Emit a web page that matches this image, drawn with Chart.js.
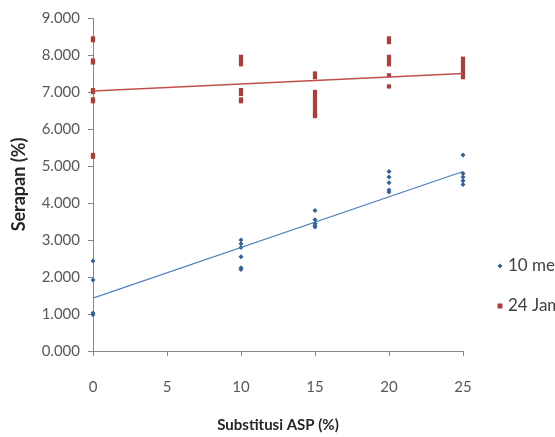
<!DOCTYPE html>
<html>
<head>
<meta charset="utf-8">
<script src="https://cdn.jsdelivr.net/npm/chart.js"></script>
<style>
  html, body { margin: 0; padding: 0; background: #fff; overflow: hidden; }
  #wrap { width: 555px; height: 437px; }
</style>
</head>
<body>
<div id="wrap"><canvas id="serapanChart" width="555" height="437"></canvas></div>
<script>
// data
const seriesNames = ['10 menit', '24 Jam'];
const xTicks = [0, 5, 10, 15, 20, 25];

const menitX = [0, 0, 0, 0, 10, 10, 10, 10, 10, 10, 15, 15, 15, 15, 15, 20, 20, 20, 20, 20, 25, 25, 25, 25, 25];
const menitY = [2.43, 1.92, 1.03, 0.98, 3.00, 2.90, 2.80, 2.55, 2.25, 2.20, 3.80, 3.55, 3.45, 3.40, 3.35, 4.85, 4.70, 4.55, 4.35, 4.30, 5.30, 4.80, 4.70, 4.60, 4.50];

const jamX = [0, 0, 0, 0, 0, 0, 0, 0, 0, 0, 10, 10, 10, 10, 10, 10, 10, 15, 15, 15, 15, 15, 15, 15, 15, 15, 15, 20, 20, 20, 20, 20, 20, 20, 25, 25, 25, 25, 25, 25];
const jamY = [8.45, 8.40, 7.85, 7.80, 7.05, 7.00, 6.80, 6.75, 5.30, 5.25, 7.95, 7.85, 7.75, 7.05, 6.95, 6.80, 6.75, 7.50, 7.40, 7.00, 6.90, 6.80, 6.70, 6.60, 6.50, 6.40, 6.35, 8.45, 8.35, 7.95, 7.85, 7.75, 7.45, 7.15, 7.90, 7.80, 7.70, 7.60, 7.50, 7.40];

// trend lines (ends)
const trendX = [0, 25];
const menitTrend = [1.43, 4.85];
const jamTrend = [7.03, 7.50];

const blue = '#4F81BD';
const red = '#C0504D';

function pts(xs, ys) {
    return xs.map((x, i) => ({ x: x, y: ys[i] }));
}

// legend drawn by hand so it runs off the right edge like the original
const sideLegend = {
    id: 'sideLegend',
    afterDraw(chart) {
        const ctx = chart.ctx;
        const x0 = chart.chartArea.right + 37;
        const rows = [
            { y: 266, color: '#376092', style: 'diamond' },
            { y: 306, color: '#A5403D', style: 'square' }
        ];
        ctx.save();
        ctx.font = '17px Lato, "Open Sans", sans-serif';
        ctx.textBaseline = 'middle';
        rows.forEach((r, i) => {
            ctx.fillStyle = r.color;
            if (r.style === 'square') {
                ctx.fillRect(x0 - 2.5, r.y - 2.5, 5, 5);
            } else {
                ctx.beginPath();
                ctx.moveTo(x0, r.y - 2.5);
                ctx.lineTo(x0 + 2.5, r.y);
                ctx.lineTo(x0, r.y + 2.5);
                ctx.lineTo(x0 - 2.5, r.y);
                ctx.closePath();
                ctx.fill();
            }
            ctx.fillStyle = '#404040';
            ctx.fillText(seriesNames[i], x0 + 8, r.y);
        });
        ctx.restore();
    }
};

const ctx = document.getElementById('serapanChart').getContext('2d');
new Chart(ctx, {
    type: 'scatter',
    data: {
        datasets: [
            {
                label: seriesNames[0] + ' trend',
                data: pts(trendX, menitTrend),
                showLine: true,
                borderColor: blue,
                borderWidth: 1.2,
                pointRadius: 0,
                clip: false
            },
            {
                label: seriesNames[1] + ' trend',
                data: pts(trendX, jamTrend),
                showLine: true,
                borderColor: red,
                borderWidth: 1.5,
                pointRadius: 0,
                clip: false
            },
            {
                label: seriesNames[0],
                data: pts(menitX, menitY),
                pointStyle: 'rectRot',
                pointRadius: 2.5,
                backgroundColor: '#376092',
                borderColor: '#376092',
                borderWidth: 0,
                clip: false
            },
            {
                label: seriesNames[1],
                data: pts(jamX, jamY),
                pointStyle: 'rect',
                pointRadius: 3,
                backgroundColor: '#A5403D',
                borderColor: '#A5403D',
                borderWidth: 0,
                clip: false
            }
        ]
    },
    options: {
        responsive: false,
        animation: false,
        layout: { padding: { top: 18, right: 92, left: 0, bottom: 0 } },
        plugins: {
            legend: { display: false },
            tooltip: { enabled: false }
        },
        scales: {
            x: {
                type: 'linear',
                min: 0,
                max: 25,
                afterBuildTicks: (scale) => { scale.ticks = xTicks.map(v => ({ value: v })); },
                afterFit: (scale) => { scale.height = 86; },
                grid: { drawOnChartArea: false, drawTicks: true, tickLength: 5, color: '#868686' },
                border: { color: '#868686', width: 1 },
                ticks: {
                    padding: 22,
                    color: '#595959',
                    font: { family: 'Lato, "Open Sans", sans-serif', size: 15 }
                },
                title: {
                    display: true,
                    text: 'Substitusi ASP (%)',
                    color: '#262626',
                    padding: { top: 0, bottom: 3 },
                    font: { family: 'Lato, "Open Sans", sans-serif', size: 15, weight: 'bold' }
                }
            },
            y: {
                min: 0,
                max: 9,
                afterFit: (scale) => { scale.width = 93; },
                grid: { drawOnChartArea: false, drawTicks: true, tickLength: 5, color: '#868686' },
                border: { color: '#868686', width: 1 },
                ticks: {
                    stepSize: 1,
                    padding: 8,
                    color: '#595959',
                    font: { family: 'Lato, "Open Sans", sans-serif', size: 15 },
                    callback: (v) => v.toFixed(3)
                },
                title: {
                    display: true,
                    text: 'Serapan (%)',
                    color: '#262626',
                    padding: { top: 8, bottom: 0 },
                    font: { family: 'Lato, "Open Sans", sans-serif', size: 18, weight: 'bold' }
                }
            }
        }
    },
    plugins: [sideLegend]
});
</script>
</body>
</html>
